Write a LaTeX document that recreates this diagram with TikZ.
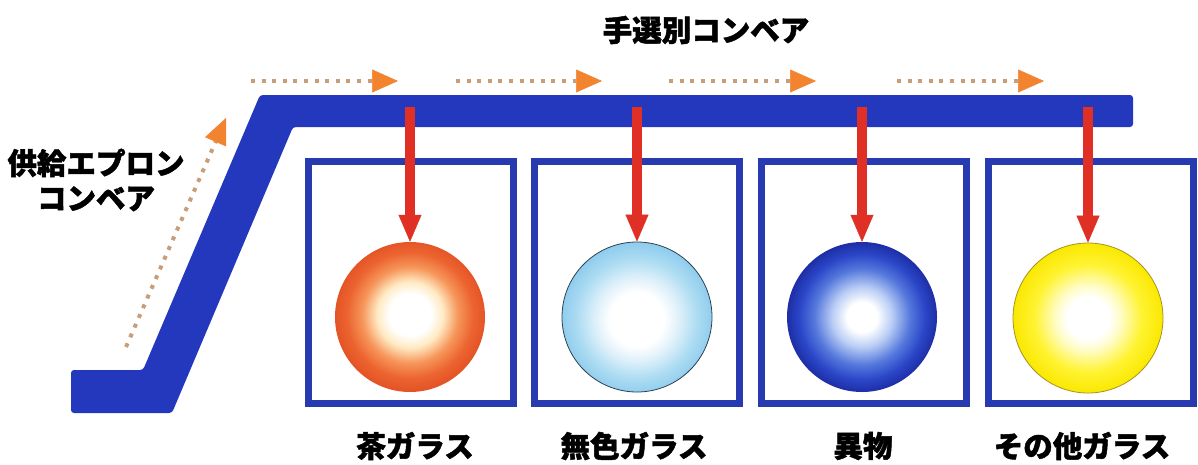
\documentclass[tikz,border=0pt]{standalone}
\usepackage{fontspec}
\newfontfamily\jp{Noto Sans CJK JP}[BoldFeatures={FakeBold=1.6}]
\usetikzlibrary{arrows.meta}
\definecolor{convblue}{RGB}{36,56,190}
\definecolor{boxblue}{RGB}{40,58,175}
\definecolor{dropred}{RGB}{224,48,38}
\definecolor{flowor}{RGB}{242,132,48}
\definecolor{flowdot}{RGB}{200,158,120}
% orange ball
\definecolor{orA}{RGB}{255,234,195}
\definecolor{orB}{RGB}{246,150,90}
\definecolor{orC}{RGB}{236,100,48}
\definecolor{orD}{RGB}{228,84,38}
% light blue ball
\definecolor{lbA}{RGB}{222,240,250}
\definecolor{lbB}{RGB}{172,220,242}
\definecolor{lbC}{RGB}{145,205,238}
% blue ball
\definecolor{buA}{RGB}{185,205,245}
\definecolor{buB}{RGB}{85,120,220}
\definecolor{buC}{RGB}{42,70,200}
\definecolor{buD}{RGB}{30,46,165}
% yellow ball
\definecolor{yeA}{RGB}{255,252,195}
\definecolor{yeB}{RGB}{255,243,50}
\definecolor{yeC}{RGB}{250,232,0}
\pgfdeclareradialshading{orangeball}{\pgfpoint{0bp}{1bp}}{color(0bp)=(white); color(7bp)=(white); color(11bp)=(orA); color(16bp)=(orB); color(21bp)=(orC); color(25bp)=(orD); color(50bp)=(orD)}
\pgfdeclareradialshading{lightball}{\pgfpoint{0bp}{-1bp}}{color(0bp)=(white); color(9bp)=(white); color(14bp)=(lbA); color(20bp)=(lbB); color(25bp)=(lbC); color(50bp)=(lbC)}
\pgfdeclareradialshading{blueball}{\pgfpoint{0bp}{0bp}}{color(0bp)=(white); color(5bp)=(white); color(10bp)=(buA); color(16bp)=(buB); color(21bp)=(buC); color(25bp)=(buD); color(50bp)=(buD)}
\pgfdeclareradialshading{yellowball}{\pgfpoint{0bp}{0bp}}{color(0bp)=(white); color(7bp)=(white); color(11bp)=(yeA); color(18bp)=(yeB); color(25bp)=(yeC); color(50bp)=(yeC)}
\tikzset{
  conv/.style={fill=convblue, rounded corners=3pt},
  binbox/.style={draw=boxblue, line width=7pt, minimum width=205pt, minimum height=242pt, inner sep=0pt},
  ball/.style={circle, minimum size=150pt, inner sep=0pt},
  drop/.style={draw=dropred, line width=10pt, -{Triangle[length=27pt,width=23pt,line width=0.5pt]}},
  flow/.style={draw=flowdot, line width=4pt, dash pattern=on 4pt off 6.6pt, -{Triangle[length=26pt,width=23pt,line width=0.5pt,color=flowor]}},
  lbl/.style={font=\jp\bfseries\fontsize{29.5}{35}\selectfont, inner sep=0pt, align=center}
}
\begin{document}
\begin{tikzpicture}[x=1pt,y=-1pt]
\useasboundingbox (0,0) rectangle (1198,464);
% conveyor
\coordinate (c1) at (260,95);
\coordinate (c2) at (1133,95);
\coordinate (c3) at (1133,127);
\coordinate (c4) at (293,127);
\coordinate (c5) at (172,413);
\coordinate (c6) at (71,413);
\coordinate (c7) at (71,370);
\coordinate (c8) at (143,370);
\fill[conv] (c1) -- (c2) -- (c3) -- (c4) -- (c5) -- (c6) -- (c7) -- (c8) -- cycle;
% bins
\node[binbox] (box1) at (411,282.5) {};
\node[binbox] (box2) at (637,282.5) {};
\node[binbox] (box3) at (864,282.5) {};
\node[binbox] (box4) at (1091,282.5) {};
% balls
\node[ball, shading=orangeball] (ball1) at (410,317) {};
\node[ball, shading=lightball, draw={rgb,255:red,45;green,65;blue,80}, line width=0.8pt] (ball2) at (637,317) {};
\node[ball, shading=blueball] (ball3) at (862,317) {};
\node[ball, shading=yellowball, draw={rgb,255:red,165;green,145;blue,40}, line width=0.8pt] (ball4) at (1088,318) {};
% drop arrows
\coordinate (d1) at (410,107);
\coordinate (d2) at (637,107);
\coordinate (d3) at (862,107);
\coordinate (d4) at (1088,107);
\draw[drop] (d1) -- (ball1.north);
\draw[drop] (d2) -- (ball2.north);
\draw[drop] (d3) -- (ball3.north);
\draw[drop] (d4) -- (ball4.north);
% flow arrows
\coordinate (f1s) at (251,81);  \coordinate (f1e) at (398,81);
\coordinate (f2s) at (456,81);  \coordinate (f2e) at (602,81);
\coordinate (f3s) at (669,81);  \coordinate (f3e) at (816,81);
\coordinate (f4s) at (897,81);  \coordinate (f4e) at (1044,81);
\coordinate (f5s) at (126,347); \coordinate (f5e) at (226,118);
\draw[flow] (f1s) -- (f1e);
\draw[flow] (f2s) -- (f2e);
\draw[flow] (f3s) -- (f3e);
\draw[flow] (f4s) -- (f4e);
\draw[flow] (f5s) -- (f5e);
% labels
\node[lbl] (title) at (706,30) {手選別コンベア};
\node[lbl] (feed) at (96,180) {供給エプロン\\コンベア};
\node[lbl] (lab1) at (415,446) {茶ガラス};
\node[lbl] (lab2) at (634,446) {無色ガラス};
\node[lbl] (lab3) at (863,446) {異物};
\node[lbl] (lab4) at (1082,446) {その他ガラス};
\end{tikzpicture}
\end{document}
